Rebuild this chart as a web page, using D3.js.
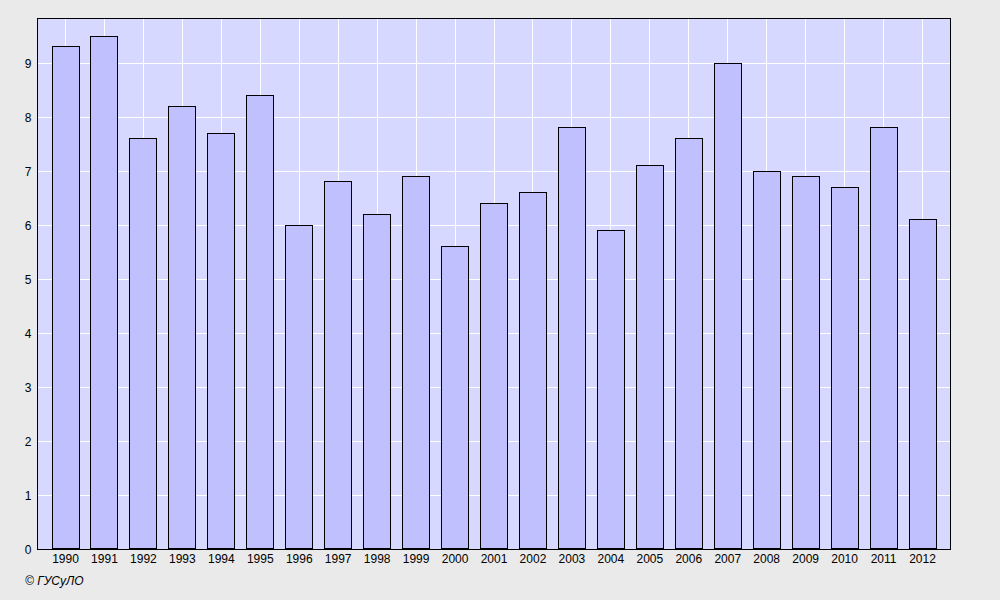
<!DOCTYPE html>
<html><head><meta charset="utf-8">
<script src="https://cdn.jsdelivr.net/npm/d3@7"></script>
<style>body{margin:0;background:#eaeaea;}svg{display:block;}</style>
</head><body>
<svg id="c" width="1000" height="600"></svg>
<script>
const years = ["1990","1991","1992","1993","1994","1995","1996","1997","1998","1999","2000","2001","2002","2003","2004","2005","2006","2007","2008","2009","2010","2011","2012"];
const values = [9.3,9.5,7.6,8.2,7.7,8.4,6.0,6.8,6.2,6.9,5.6,6.4,6.6,7.8,5.9,7.1,7.6,9.0,7.0,6.9,6.7,7.8,6.1];
const yTicks = [0,1,2,3,4,5,6,7,8,9];
const credit = "© ГУСуЛО";

const svg = d3.select("#c");
const L = 37.5, R = 950.5, T = 18.5, B = 549.5;
const x = d3.scalePoint().domain(years).range([65, 922]);
const y = d3.scaleLinear().domain([0, 9.8333]).range([549, 18]);
const bw = 27;
const py = d => Math.floor(y(d) + 0.01);

svg.append("rect").attr("x",0).attr("y",0).attr("width",1000).attr("height",600).attr("fill","#eaeaea");
svg.append("rect").attr("x",L).attr("y",T).attr("width",R-L).attr("height",B-T).attr("fill","#d6d8ff");

const g = svg.append("g");
g.selectAll(".hg").data(yTicks.slice(1)).enter().append("line")
  .attr("x1",L).attr("x2",R).attr("y1",d=>py(d)+0.5).attr("y2",d=>py(d)+0.5)
  .attr("stroke","#fff").attr("stroke-width",1);
g.selectAll(".vg").data(years).enter().append("line")
  .attr("x1",d=>Math.round(x(d))+0.5).attr("x2",d=>Math.round(x(d))+0.5).attr("y1",T).attr("y2",B)
  .attr("stroke","#fff").attr("stroke-width",1);

g.selectAll(".bar").data(values).enter().append("rect")
  .attr("x",(d,i)=>Math.round(x(years[i])-bw/2)+0.5)
  .attr("y",d=>py(d)+0.5)
  .attr("width",bw)
  .attr("height",d=>549-py(d)-1)
  .attr("fill","#c0c0ff").attr("stroke","#000").attr("stroke-width",1);

svg.append("rect").attr("x",L).attr("y",T).attr("width",R-L).attr("height",B-T)
  .attr("fill","none").attr("stroke","#000").attr("stroke-width",1);

const ya = d3.axisLeft(y).tickValues(yTicks).tickSize(0).tickPadding(6).tickFormat(d3.format("d"));
svg.append("g").attr("transform",`translate(${L},0.5)`).call(ya)
  .call(s=>s.select(".domain").remove())
  .selectAll("text").attr("font-family","Liberation Sans, Arial, sans-serif").attr("font-size",12).attr("fill","#000");

const xa = d3.axisBottom(x).tickSize(0).tickPadding(5);
svg.append("g").attr("transform",`translate(0,${B})`).call(xa)
  .call(s=>s.select(".domain").remove())
  .selectAll("text").attr("font-family","Liberation Sans, Arial, sans-serif").attr("font-size",12).attr("fill","#000");

svg.append("text").attr("x",25).attr("y",585).text(credit)
  .attr("font-family","Liberation Sans, Arial, sans-serif").attr("font-size",12).attr("font-style","italic").attr("fill","#000");
</script>
</body></html>
